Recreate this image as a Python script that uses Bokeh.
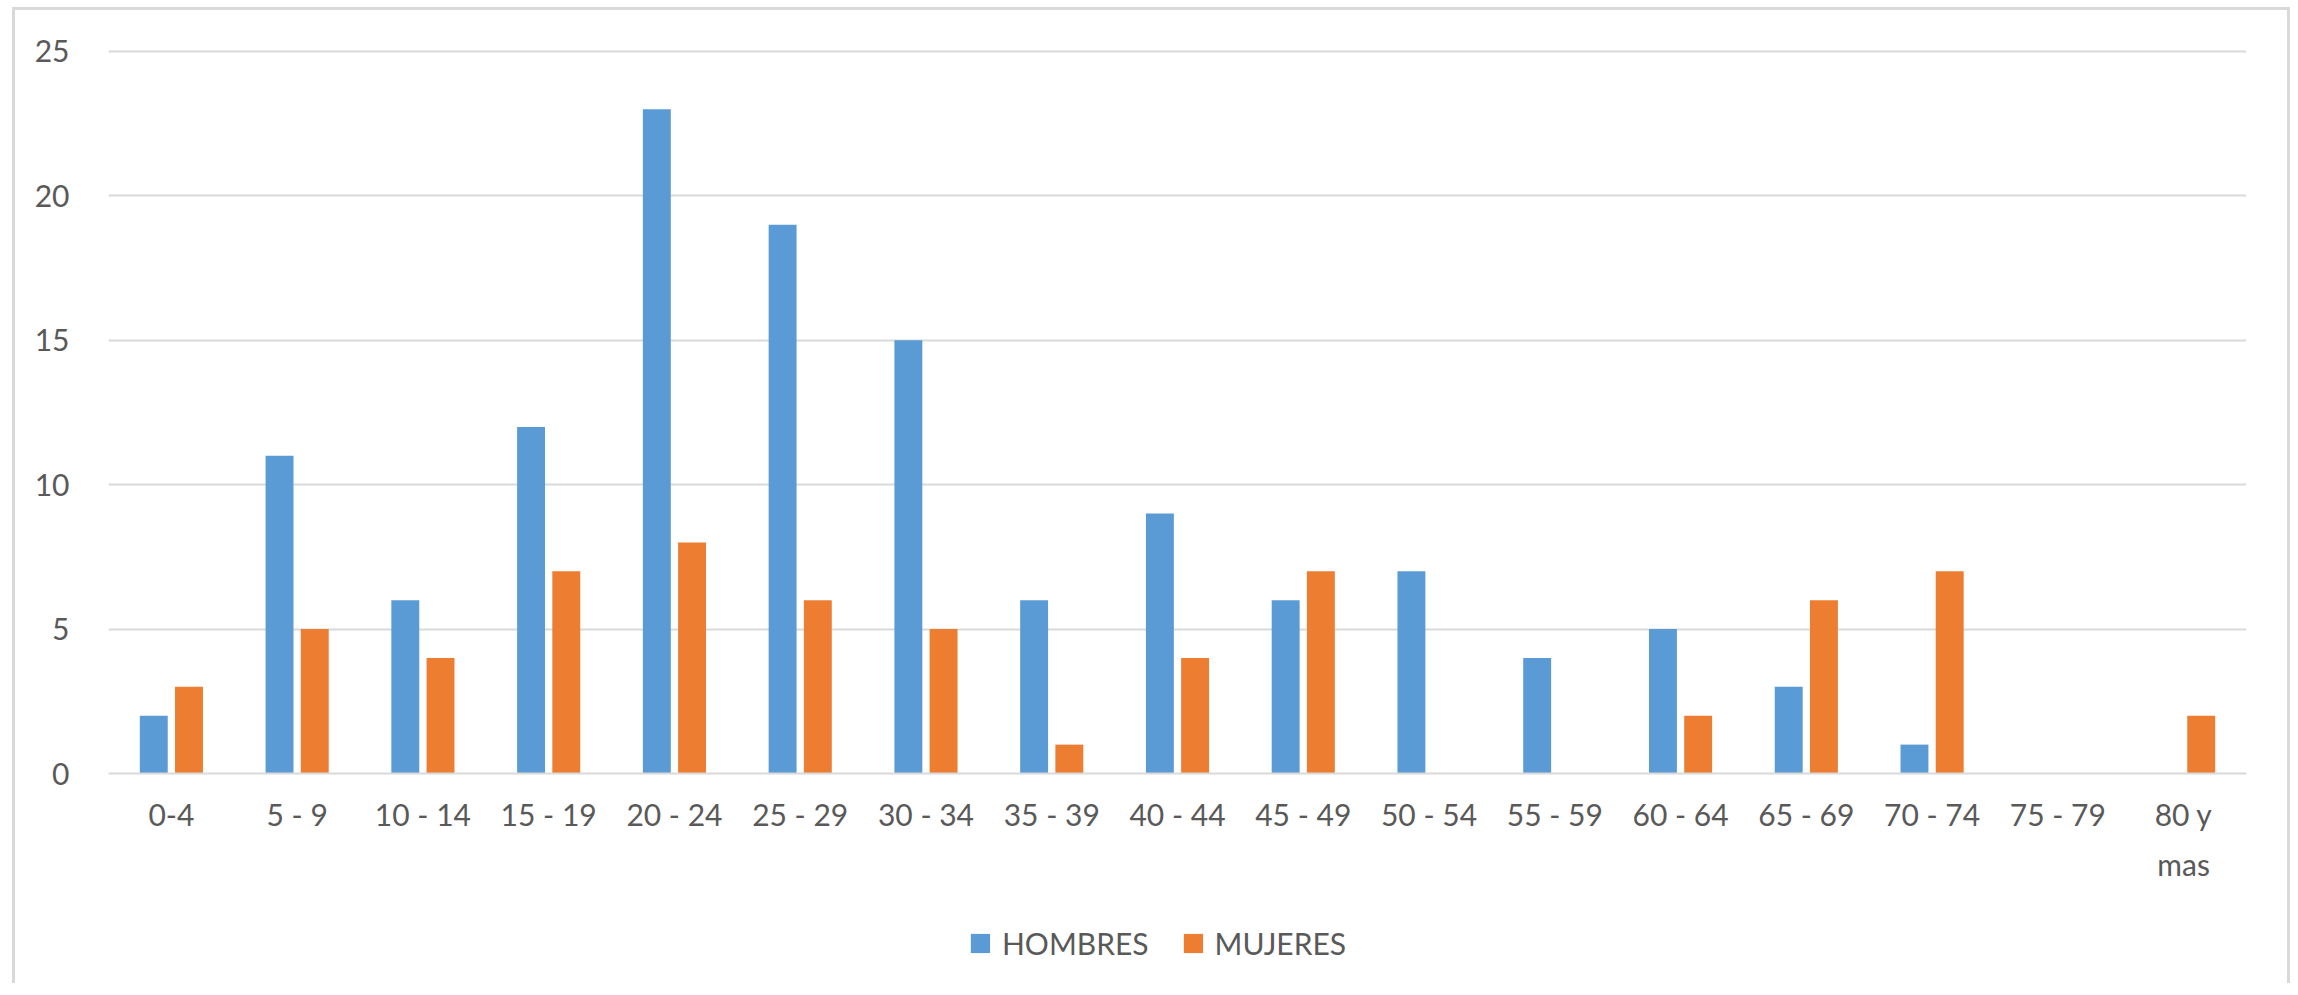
from bokeh.plotting import figure
from bokeh.models import (FactorRange, Range1d, ColumnDataSource, FixedTicker,
                          Legend, LegendItem)
from bokeh.layouts import column
from bokeh.transform import dodge
from bokeh.embed import file_html
from bokeh.resources import INLINE

categories = ["0-4", "5 - 9", "10 - 14", "15 - 19", "20 - 24", "25 - 29", "30 - 34",
              "35 - 39", "40 - 44", "45 - 49", "50 - 54", "55 - 59", "60 - 64",
              "65 - 69", "70 - 74", "75 - 79", "80 y\nmas"]
hombres = [2, 11, 6, 12, 23, 19, 15, 6, 9, 6, 7, 4, 5, 3, 1, 0, 0]
mujeres = [3, 5, 4, 7, 8, 6, 5, 1, 4, 7, 0, 0, 2, 6, 7, 0, 2]
y_ticks = [0, 5, 10, 15, 20, 25]
series_names = ["HOMBRES", "MUJERES"]

BLUE = "#5B9BD5"
ORANGE = "#ED7D31"
GRID = "#D9D9D9"
TEXT = "#595959"
FONT = "Lato"
FS = "30px"

source = ColumnDataSource(dict(cat=categories, h=hombres, m=mujeres))

p = figure(width=2272, height=890, output_backend="svg", toolbar_location=None,
           x_range=FactorRange(*categories, range_padding=0),
           y_range=Range1d(0, 25.1),
           min_border_left=93, min_border_right=41,
           min_border_top=38, min_border_bottom=127)

p.outline_line_color = None
p.background_fill_color = "white"
p.border_fill_color = "white"

rh = p.vbar(x=dodge("cat", -0.14, range=p.x_range), top="h", width=0.222,
            source=source, fill_color=BLUE, line_color=None)
rm = p.vbar(x=dodge("cat", 0.14, range=p.x_range), top="m", width=0.222,
            source=source, fill_color=ORANGE, line_color=None)

# axes
p.yaxis.ticker = FixedTicker(ticks=y_ticks)
p.yaxis.axis_line_color = None
p.yaxis.major_tick_line_color = None
p.yaxis.minor_tick_line_color = None
p.yaxis.major_label_standoff = 33
p.yaxis.major_label_text_font = FONT
p.yaxis.major_label_text_font_size = FS
p.yaxis.major_label_text_color = TEXT

p.xaxis.axis_line_color = GRID
p.xaxis.axis_line_width = 2
p.xaxis.major_tick_line_color = None
p.xaxis.minor_tick_line_color = None
p.xaxis.major_label_standoff = 16
p.xaxis.major_label_text_font = FONT
p.xaxis.major_label_text_font_size = FS
p.xaxis.major_label_text_color = TEXT
p.xaxis.major_label_text_line_height = 1.4

p.xgrid.grid_line_color = None
p.ygrid.ticker = FixedTicker(ticks=y_ticks)
p.ygrid.grid_line_color = GRID
p.ygrid.grid_line_width = 2

# legend strip below the chart (same series, plotted out of view; only the legend shows)
lf = figure(width=2232, height=86, output_backend="svg", toolbar_location=None,
            x_range=FactorRange(*categories, range_padding=0),
            y_range=Range1d(1000, 1001),
            x_axis_type=None, y_axis_type=None,
            min_border=0, min_border_left=0, min_border_right=0,
            min_border_top=0, min_border_bottom=0)
lf.outline_line_color = None
lf.grid.visible = False
lh = lf.vbar(x=dodge("cat", -0.14, range=lf.x_range), top="h", width=0.222,
             source=source, fill_color=BLUE, line_color=None)
lm = lf.vbar(x=dodge("cat", 0.14, range=lf.x_range), top="m", width=0.222,
             source=source, fill_color=ORANGE, line_color=None)

legend = Legend(items=[LegendItem(label=series_names[0], renderers=[lh]),
                       LegendItem(label=series_names[1], renderers=[lm])],
                orientation="horizontal", location="center",
                glyph_width=24, glyph_height=24, label_standoff=10,
                spacing=32, padding=0, margin=0,
                label_text_font=FONT, label_text_font_size=FS,
                label_text_color=TEXT, border_line_color=None,
                background_fill_alpha=0)
lf.add_layout(legend, "center")

layout = column(p, lf, spacing=0)
# light frame around the chart area (left, top, right edges)
layout.styles = {"margin-left": "15px", "margin-top": "10px",
                 "box-shadow": "-3px -3px 0 0 #D9D9D9, 3px -3px 0 0 #D9D9D9"}

open("out.html", "w").write(file_html(layout, INLINE))
